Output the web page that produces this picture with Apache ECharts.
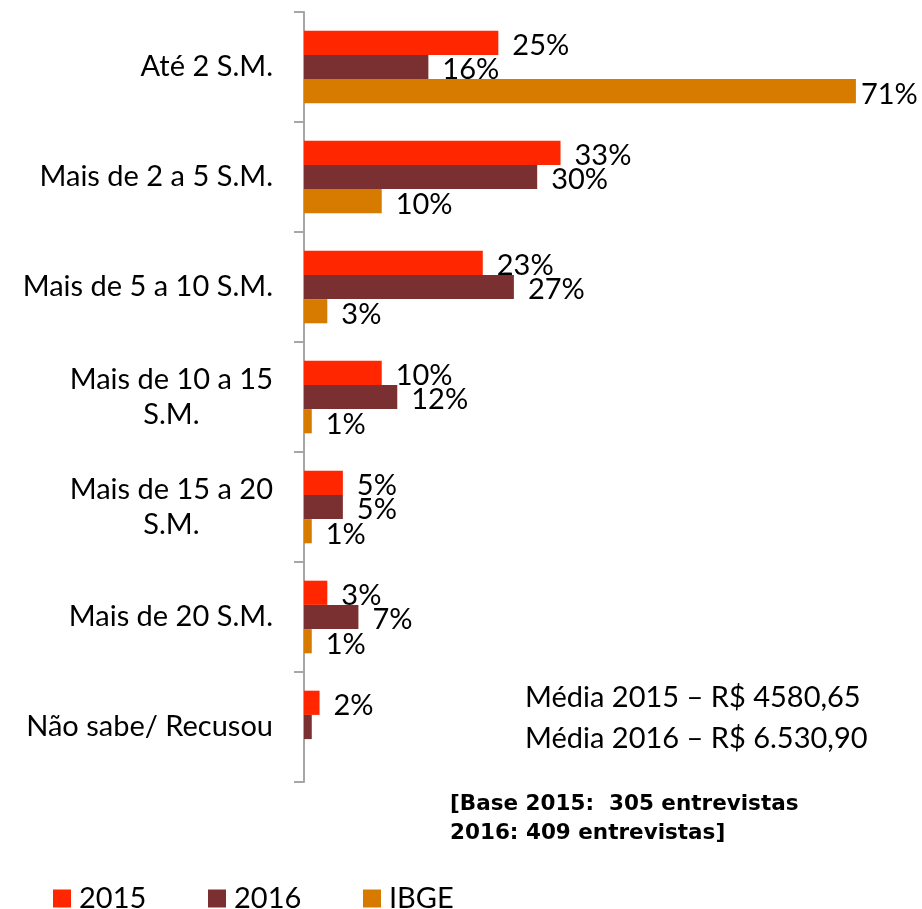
<!DOCTYPE html>
<html>
<head>
<meta charset="utf-8">
<script src="https://cdn.jsdelivr.net/npm/echarts@6/dist/echarts.min.js"></script>
<style>
  html, body { margin: 0; padding: 0; background: #fff; }
  #main { width: 922px; height: 909px; }
</style>
</head>
<body>
<div id="main"></div>
<script>
// faixas de renda
let faixas = ['Até 2 S.M.', 'Mais de 2 a 5 S.M.', 'Mais de 5 a 10 S.M.', 'Mais de 10 a 15\nS.M.', 'Mais de 15 a 20\nS.M.', 'Mais de 20 S.M.', 'Não sabe/ Recusou']
let dados2015 = [25, 33, 23, 10, 5, 3, 2]
let dados2016 = [16, 30, 27, 12, 5, 7, 1]
let dadosIBGE = [71, 10, 3, 1, 1, 1, null]
let nomes = ['2015', '2016', 'IBGE']
let cores = ['#FF2600', '#7A3030', '#D77A00']

let fonte = 'Lato, "Noto Sans", sans-serif'
let tam = 29

var myChart = echarts.init(document.getElementById('main'))

function serie(nome, valores, cor) {
    return {
        name: nome,
        type: 'bar',
        barGap: '0%',
        barCategoryGap: '34%',
        itemStyle: { color: cor },
        label: {
            show: true,
            position: 'right',
            distance: 14,
            offset: [0, 3],
            formatter: '{c}%',
            color: '#000',
            fontSize: tam,
            fontFamily: fonte
        },
        data: valores.map((v, i) => {
            // barra de 2016 "Não sabe" sem rótulo
            if (nome == '2016' && i == 6) return { value: v, label: { show: false } }
            // rótulo do 71% encostado na barra
            if (nome == 'IBGE' && i == 0) return { value: v, label: { distance: 5 } }
            return v
        })
    }
}

let option = {
    animation: false,
    grid: { left: 304, top: 12, width: 583, height: 770 },
    xAxis: {
        type: 'value',
        min: 0,
        max: 75,
        show: false
    },
    yAxis: {
        type: 'category',
        inverse: true,
        data: faixas,
        axisLine: { lineStyle: { color: '#A6A6A6', width: 2 } },
        axisTick: { show: true, length: 10, lineStyle: { color: '#A6A6A6', width: 2 } },
        axisLabel: {
            margin: 31,
            formatter: (v) => v.split('\n').map(s => '{c|' + s + '}').join('\n'),
            rich: {
                c: { align: 'center', fontSize: tam, fontFamily: fonte, color: '#000', lineHeight: 35 }
            }
        }
    },
    legend: [0, 1, 2].map(i => ({
        data: [nomes[i]],
        left: 53 + i * 155,
        top: 884,
        padding: 0,
        itemWidth: 18,
        itemHeight: 18,
        icon: 'rect',
        itemGap: 0,
        textStyle: { fontSize: tam, fontFamily: fonte, color: '#000', lineHeight: 18, padding: [0, 0, 0, 3] }
    })),
    graphic: [
        {
            type: 'text', left: 525, top: 677,
            style: { text: 'Média 2015 – R$ 4580,65\nMédia 2016 – R$ 6.530,90', font: tam + 'px ' + fonte, fill: '#000', lineHeight: 41 }
        },
        {
            type: 'text', left: 450, top: 790,
            style: { text: '[Base 2015:  305 entrevistas\n2016: 409 entrevistas]', font: 'bold 21.5px "DejaVu Sans", sans-serif', fill: '#000', lineHeight: 29 }
        }
    ],
    series: [
        serie(nomes[0], dados2015, cores[0]),
        serie(nomes[1], dados2016, cores[1]),
        serie(nomes[2], dadosIBGE, cores[2])
    ]
}

myChart.setOption(option)
</script>
</body>
</html>
